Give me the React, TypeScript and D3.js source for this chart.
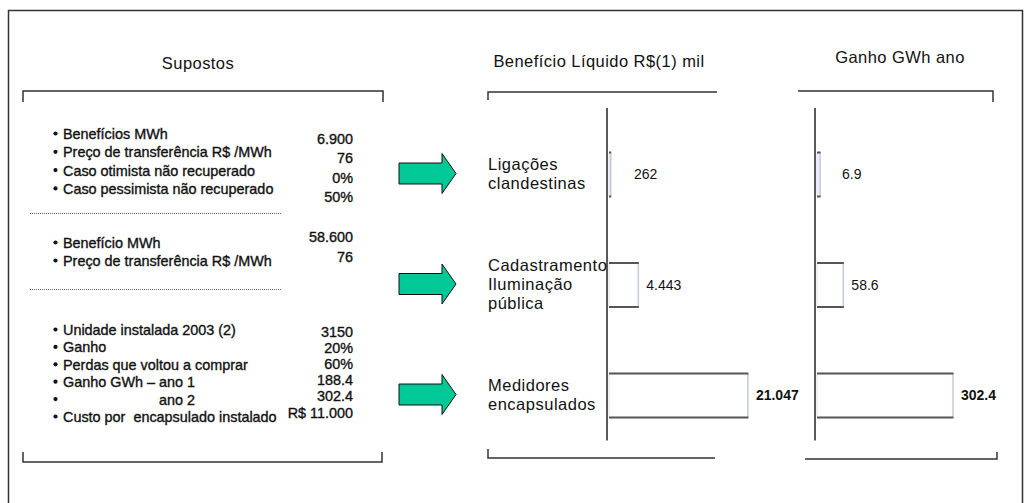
import React from "react";
import * as d3 from "d3";

// ---------- data ----------
const titleSupostos = "Supostos";
const titleBeneficio = "Benefício Líquido R$(1) mil";
const titleGanho = "Ganho GWh ano";

const categories = ["Ligações clandestinas", "Cadastramento Iluminação pública", "Medidores encapsulados"];
const categoryLines = [["Ligações", "clandestinas"], ["Cadastramento", "Iluminação", "pública"], ["Medidores", "encapsulados"]];

const beneficioValues = [262, 4443, 21047];
const beneficioLabels = ["262", "4.443", "21.047"];
const ganhoValues = [6.9, 58.6, 302.4];
const ganhoLabels = ["6.9", "58.6", "302.4"];

const sec1Items = ["Benefícios MWh", "Preço de transferência R$ /MWh", "Caso otimista não recuperado", "Caso pessimista não recuperado"];
const sec1Values = ["6.900", "76", "0%", "50%"];
const sec2Items = ["Benefício MWh", "Preço de transferência R$ /MWh"];
const sec2Values = ["58.600", "76"];
const sec3Items = ["Unidade instalada 2003 (2)", "Ganho", "Perdas que voltou a comprar", "Ganho GWh – ano 1", "\tano 2", "Custo por  encapsulado instalado"];
const sec3Values = ["3150", "20%", "60%", "188.4", "302.4", "R$ 11.000"];

// ---------- layout ----------
const W = 1031, H = 503;
const FONT = "'Liberation Sans', Arial, Helvetica, sans-serif";
const LINE = "#333";
const leftSections = [
  { items: sec1Items, values: sec1Values, itemY0: 134, itemStep: 18.3, valY0: 139, valStep: 19.3 },
  { items: sec2Items, values: sec2Values, itemY0: 243, itemStep: 18, valY0: 237, valStep: 20 },
  { items: sec3Items, values: sec3Values, itemY0: 330, itemStep: 17.4, valY0: 332, valStep: 16.1 },
];
const bulletX = 55.5, itemX = 63, valueRight = 353;
const itemSize = 14.4;
const itemFont = `${itemSize}px ${FONT}`;

function measure(text: string, font: string): number {
  const c = document.createElement("canvas").getContext("2d");
  if (!c) return text.length * 7;
  c.font = font;
  return c.measureText(text).width;
}

const yBand = d3.scalePoint<string>().domain(categories).range([174.5, 395.5]);
const barH = 44;
const xBen = d3.scaleLinear().domain([0, 25000]).range([609, 774]);
const xGan = d3.scaleLinear().domain([0, 350]).range([817, 974.4]);

function Bars({ values, labels, x }: { values: number[]; labels: string[]; x: d3.ScaleLinear<number, number> }) {
  const x0 = x(0);
  return (
    <g>
      <line x1={x0 - 2} x2={x0 - 2} y1={108} y2={440.5} stroke="#222" strokeWidth={1.5} />
      {values.map((v, i) => {
        const cy = yBand(categories[i])!;
        const y0 = cy - barH / 2, y1 = cy + barH / 2;
        const x1 = x(v);
        const lx = Math.max(x1 + 8, x0 + 25);
        const last = i === values.length - 1;
        return (
          <g key={i}>
            <rect x={x0} y={y0} width={x1 - x0} height={barH} fill={x1 - x0 < 5 ? "#eeeefa" : "#fff"} />
            <line x1={x0} x2={x0} y1={y0} y2={y1} stroke="#e2e2f2" strokeWidth={1} />
            <line x1={x1} x2={x1} y1={y0} y2={y1} stroke="#c8c8de" strokeWidth={1.5} />
            <line x1={x0} x2={x1 + 0.5} y1={y0} y2={y0} stroke="#555" strokeWidth={2} />
            <line x1={x0} x2={x1 + 0.5} y1={y1} y2={y1} stroke="#555" strokeWidth={2} />
            <text x={lx} y={cy} dy="0.35em" fontSize={14} fontWeight={last ? "bold" : "normal"} fill="#111">
              {labels[i]}
            </text>
          </g>
        );
      })}
    </g>
  );
}

function Arrow({ cy }: { cy: number }) {
  const xa = 399, xb = 442, xc = 456, bh = 10.5, hh = 20;
  const path = d3.path();
  path.moveTo(xa, cy - bh);
  path.lineTo(xb, cy - bh);
  path.lineTo(xb, cy - hh);
  path.lineTo(xc, cy);
  path.lineTo(xb, cy + hh);
  path.lineTo(xb, cy + bh);
  path.lineTo(xa, cy + bh);
  path.closePath();
  return <path d={path.toString()} fill="#00c896" stroke="#111" strokeWidth={1} />;
}

export default function App() {
  return (
    <svg width={W} height={H} style={{ position: "absolute", left: 0, top: 0, display: "block", background: "#fff" }} fontFamily={FONT}>
      {/* outer frame */}
      <path d="M8.5,520 V10.5 H1022.5 V520" fill="none" stroke="#333" strokeWidth={1.5} />

      {/* headers */}
      <g fontSize={16.5} fill="#111" textAnchor="middle" letterSpacing={0.45}>
        <text x={198} y={63} dy="0.35em">{titleSupostos}</text>
        <text x={599} y={61} dy="0.35em">{titleBeneficio}</text>
        <text x={900} y={57} dy="0.35em">{titleGanho}</text>
      </g>

      {/* brackets */}
      <g fill="none" stroke={LINE} strokeWidth={1.5}>
        <path d="M23,102 V91 H383 V102" />
        <path d="M23,452 V462 H382 V452" />
        <path d="M488,100 V92 H717" />
        <path d="M488,449 V458 H715" />
        <path d="M798,91 H993 V102" />
        <path d="M805,459 H997 V452" />
      </g>

      {/* dotted separators */}
      <g stroke="#666" strokeWidth={1} strokeDasharray="1,1">
        <line x1={30} x2={282} y1={213.5} y2={213.5} />
        <line x1={30} x2={282} y1={289.5} y2={289.5} />
      </g>

      {/* left sections */}
      {leftSections.map((s, si) => (
        <g key={si} fontSize={itemSize} fill="#111">
          {s.items.map((it, i) => {
            const y = s.itemY0 + i * s.itemStep;
            let tx = itemX;
            let label = it;
            if (it.startsWith("\t")) {
              const prev = s.items[i - 1];
              const cut = prev.indexOf("–");
              tx = itemX + measure(prev.slice(0, cut + 1) + " ", itemFont);
              label = it.slice(1);
            }
            return (
              <g key={i}>
                <circle cx={bulletX} cy={y - 0.5} r={2.1} fill="#111" />
                <text x={tx} y={y} dy="0.35em" stroke="#111" strokeWidth={0.35} style={{ whiteSpace: "pre" }}>{label}</text>
              </g>
            );
          })}
          {s.values.map((v, i) => (
            <text key={"v" + i} x={valueRight} y={s.valY0 + i * s.valStep} dy="0.35em" textAnchor="end" stroke="#111" strokeWidth={0.35}>{v}</text>
          ))}
        </g>
      ))}

      {/* arrows */}
      {categories.map((c) => (
        <Arrow key={c} cy={yBand(c)! - 1} />
      ))}

      {/* category labels */}
      {categoryLines.map((lines, i) => {
        const cy = yBand(categories[i])!;
        const lh = 19;
        const start = cy - ((lines.length - 1) * lh) / 2 - 1;
        return (
          <g key={i} fontSize={16.5} fill="#111" letterSpacing={0.5}>
            {lines.map((l, j) => (
              <text key={j} x={488} y={start + j * lh} dy="0.35em">{l}</text>
            ))}
          </g>
        );
      })}

      <Bars values={beneficioValues} labels={beneficioLabels} x={xBen} />
      <Bars values={ganhoValues} labels={ganhoLabels} x={xGan} />
    </svg>
  );
}
